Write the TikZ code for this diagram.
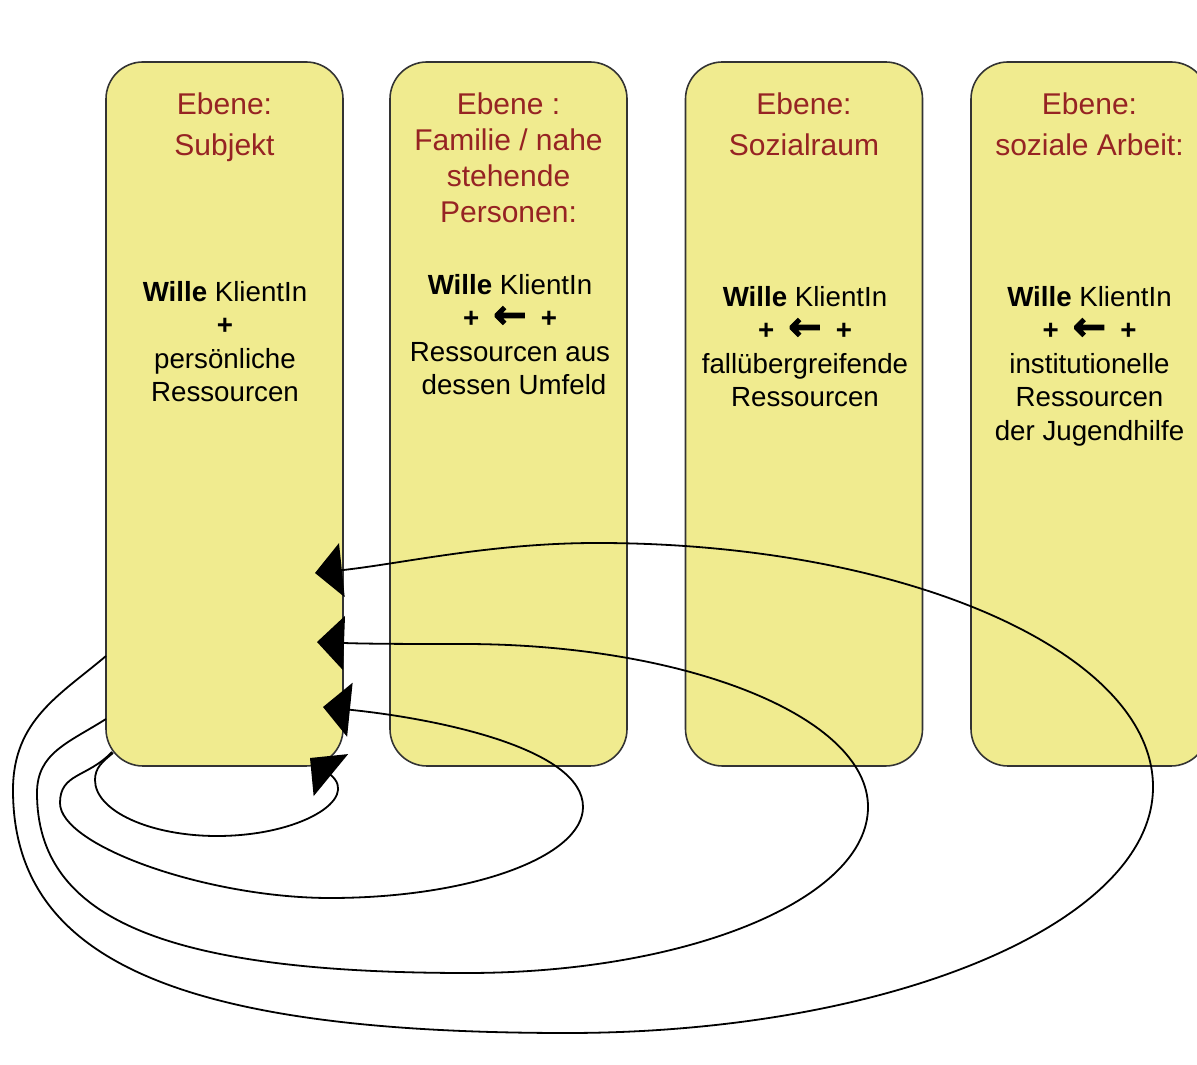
\documentclass[tikz,border=0pt]{standalone}
\usepackage{fontspec}
\setmainfont{Liberation Sans}
\newfontfamily\arrowfont[BoldFeatures={FakeBold=2.5}]{DejaVu Sans}
\usetikzlibrary{arrows.meta}
\definecolor{boxfill}{HTML}{F0EB8F}
\definecolor{titlered}{HTML}{962323}
\definecolor{boxline}{HTML}{333333}
\newcommand{\plusarrow}{{\bfseries +}\hspace{7pt}{\arrowfont\bfseries\fontsize{20}{16.75}\selectfont ←}\hspace{7pt}{\bfseries +}}
\begin{document}
\begin{tikzpicture}[x=0.5pt,y=0.5pt,
  box/.style={draw=boxline, line width=0.8pt, fill=boxfill, rounded corners=18.5pt,
    minimum width=118.5pt, minimum height=352pt, inner sep=0pt},
  titletext/.style={anchor=north, align=center, inner sep=0pt, text=titlered,
    font=\fontsize{15}{20.5}\selectfont},
  bodytext/.style={anchor=north, align=center, inner sep=0pt, text=black,
    font=\fontsize{13.85}{16.75}\selectfont},
  loopline/.style={draw=black, line width=0.9pt, -{Triangle[length=13.5pt,width=27pt]}}
]
\useasboundingbox (0,0) rectangle (1197,1064);
\fill[white] (0,0) rectangle (1197,1064);
\clip (0,0) rectangle (1197,1064);

% boxes
\node[box] (b1) at (224.5,650) {};
\node[box] (b2) at (508.5,650) {};
\node[box] (b3) at (804,650) {};
\node[box] (b4) at (1089.5,650) {};

% titles
\node[titletext] (t1title) at (224.5,972) {Ebene:\\Subjekt};
\node[titletext, font=\fontsize{15}{18}\selectfont] (t2title) at (508.5,972) {Ebene :\\Familie / nahe\\stehende\\Personen:};
\node[titletext] (t3title) at (804,972) {Ebene:\\Sozialraum};
\node[titletext] (t4title) at (1089.5,972) {Ebene:\\soziale Arbeit:};

% bodies
\node[bodytext] (t1body) at (225,783) {\textbf{Wille} KlientIn\\\textbf{+}\\persönliche\\Ressourcen};
\node[bodytext] (t2body) at (510,790) {\textbf{Wille} KlientIn\\\plusarrow\\Ressourcen aus\\\hspace*{4pt}dessen Umfeld};
\node[bodytext] (t3body) at (805,778) {\textbf{Wille} KlientIn\\\plusarrow\\fallübergreifende\\Ressourcen};
\node[bodytext] (t4body) at (1089.5,778) {\textbf{Wille} KlientIn\\\plusarrow\\institutionelle\\Ressourcen\\der Jugendhilfe};

% loop end points
\coordinate (s4) at (106,408);
\coordinate (e4) at (315,491);
\coordinate (s3) at (106,345);
\coordinate (e3) at (317,422);
\coordinate (s2) at (112,312);
\coordinate (e2) at (323,357);
\coordinate (s1) at (113,311);
\coordinate (e1) at (310,306);

% loops
\draw[loopline] (s4) .. controls (60,369) and (13,344) .. (13,274)
  .. controls (13,104) and (179,31) .. (567,31)
  .. controls (890,31) and (1153,141) .. (1153,277)
  .. controls (1153,412) and (904,521) .. (597,521)
  .. controls (490,521) and (400,500) .. (e4);

\draw[loopline] (s3) .. controls (68,321) and (37,311) .. (37,271)
  .. controls (37,145) and (166,91) .. (467,91)
  .. controls (688,91) and (868,165) .. (868,257)
  .. controls (868,347) and (687,420) .. (463,420)
  .. controls (420,420) and (370,420) .. (e3);

\draw[loopline] (s2) .. controls (87,286) and (60,291) .. (60,261)
  .. controls (60,218) and (208,166) .. (330,166)
  .. controls (470,166) and (583,207) .. (583,257)
  .. controls (583,315) and (440,345) .. (e2);

\draw[loopline] (s1) .. controls (102,302) and (95,296) .. (95,284)
  .. controls (95,253) and (150,228) .. (217,228)
  .. controls (300,228) and (360,265) .. (e1);
\end{tikzpicture}
\end{document}
